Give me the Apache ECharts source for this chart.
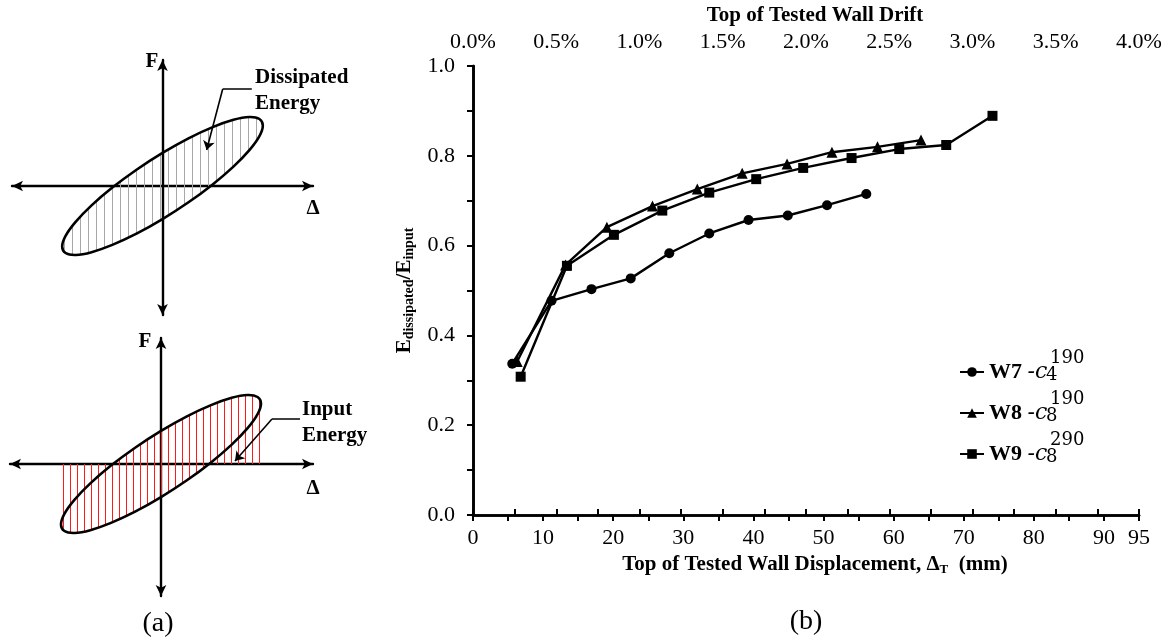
<!DOCTYPE html>
<html><head><meta charset="utf-8">
<script src="https://cdn.jsdelivr.net/npm/echarts@6/dist/echarts.min.js"></script>
<style>html,body{margin:0;padding:0;background:#fff}#c{width:1173px;height:643px}</style>
</head><body><div id="c"></div>
<script>
// ---------- panel (b) data ----------
const seriesNames = ['W7', 'W8', 'W9'];
const dispW7  = [5.6, 11.2, 16.9, 22.5, 28.0, 33.7, 39.3, 44.9, 50.5, 56.1];
const ratioW7 = [0.337, 0.477, 0.503, 0.527, 0.583, 0.627, 0.657, 0.667, 0.690, 0.715];
const dispW8  = [6.3, 13.2, 19.1, 25.6, 32.0, 38.4, 44.8, 51.2, 57.7, 63.9];
const ratioW8 = [0.342, 0.557, 0.641, 0.688, 0.726, 0.761, 0.782, 0.808, 0.820, 0.835];
const dispW9  = [6.8, 13.4, 20.1, 27.0, 33.7, 40.4, 47.1, 54.0, 60.8, 67.5, 74.1];
const ratioW9 = [0.308, 0.555, 0.624, 0.678, 0.718, 0.748, 0.773, 0.795, 0.815, 0.824, 0.889];
const legendSub = ['4', '8', '8'];
const legendSup = ['190', '190', '290'];
const dispTickLabels  = [0, 10, 20, 30, 40, 50, 60, 70, 80, 90, 95];
const driftTickLabels = [0, 0.5, 1.0, 1.5, 2.0, 2.5, 3.0, 3.5, 4.0];
const ratioTickLabels = [0, 0.2, 0.4, 0.6, 0.8, 1.0];

// ---------- panel (a) schematic data (px-like units) ----------
const loopPts = [[100,60.5],[96.6,67.0],[86.6,69.0],[70.7,66.2],[50,58.9],[25.9,47.7],[0,33.1],[-25.9,16.3],
  [-50,-1.6],[-70.7,-19.4],[-86.6,-35.9],[-96.6,-49.9],[-100,-60.5],[-96.6,-67.0],[-86.6,-69.0],[-70.7,-66.2],
  [-50,-58.9],[-25.9,-47.7],[0,-33.1],[25.9,-16.3],[50,1.6],[70.7,19.4],[86.6,35.9],[96.6,49.9]];
const inputPts = [[-100,0],[-48,0],[-25.9,16.3],[0,33.1],[25.9,47.7],[50,58.9],[70.7,66.2],[86.6,69.0],[96.6,67.0],
  [100,60.5],[100,0],[48,0],[25.9,-16.3],[0,-33.1],[-25.9,-47.7],[-50,-58.9],[-70.7,-66.2],[-86.6,-69.0],[-96.6,-67.0],[-100,-60.5]];
const leaderDissipated = [[89,97],[60,97],[44,36]];
const leaderInput = [[139,45],[111,45],[74,3]];

const SERIF = 'Liberation Serif';
function zip(a, b) { return a.map((v, i) => [v, b[i]]); }
function stripe(color, w) {
  const c = document.createElement('canvas'); c.width = w; c.height = 4;
  const ctx = c.getContext('2d'); ctx.fillStyle = color; ctx.fillRect(0, 0, 1, 4);
  return { image: c, repeat: 'repeat' };
}
const grayHatch = stripe('#a8a8a8', 8);
const redHatch = stripe('#ff1a1a', 7);

function polySeries(pts, xi, yi, style, smooth, z) {
  return {
    type: 'custom', xAxisIndex: xi, yAxisIndex: yi, silent: true, z: z,
    data: [[0, 0]],
    renderItem: function (params, api) {
      return { type: 'polygon', shape: { points: pts.map(p => api.coord(p)), smooth: smooth }, style: style };
    }
  };
}
function leaderSeries(pts, xi, yi) {
  return {
    type: 'lines', coordinateSystem: 'cartesian2d', xAxisIndex: xi, yAxisIndex: yi, silent: true, z: 5,
    lineStyle: { color: '#000', width: 1.6, opacity: 1 }, symbolSize: 9,
    data: [
      { coords: [pts[0], pts[1]], symbol: ['none', 'none'] },
      { coords: [pts[1], pts[2]], symbol: ['none', 'arrow'] }
    ]
  };
}
function schemAxisX(gi, min, max) {
  return { type: 'value', gridIndex: gi, min: min, max: max,
    axisLine: { show: true, onZero: true, symbol: ['arrow', 'arrow'], symbolSize: [8, 11], lineStyle: { color: '#000', width: 2.4 } },
    axisTick: { show: false }, axisLabel: { show: false }, splitLine: { show: false } };
}

const chart = echarts.init(document.getElementById('c'), null, { renderer: 'canvas' });

const tickStyle = { color: '#000', width: 2 };
const axisLineStyle = { color: '#000', width: 2.6 };
const labelFont = { fontFamily: SERIF, fontSize: 22, color: '#000' };

const legendTops = [356, 397, 438];
const legends = seriesNames.map((n, i) => ({
  data: [n], left: 954, top: legendTops[i], orient: 'vertical', selectedMode: false,
  itemWidth: 24, itemHeight: 12, itemGap: 5,
  formatter: name => '{b|' + name + '} {m|-c}',
  textStyle: { fontFamily: SERIF, fontSize: 22, color: '#000',
    rich: { b: { fontFamily: SERIF, fontSize: 22, fontWeight: 'bold', color: '#000' },
            m: { fontFamily: 'DejaVu Serif', fontStyle: 'italic', fontSize: 22, color: '#000' } } }
}));

const graphics = [];
seriesNames.forEach((n, i) => {
  const cy = legendTops[i] + 12;
  graphics.push({ type: 'text', x: 1046, y: cy + 7, style: { text: legendSub[i], font: '18px "DejaVu Serif"', fill: '#000', textAlign: 'left', textVerticalAlign: 'middle', align: 'left', verticalAlign: 'middle' } });
  graphics.push({ type: 'text', x: 1050, y: cy - 10, style: { text: legendSup[i], font: '18px "DejaVu Serif"', fill: '#000', textAlign: 'left', textVerticalAlign: 'middle', align: 'left', verticalAlign: 'middle' } });
});
function txt(s, x, y, font, align) {
  return { type: 'text', x: x, y: y, style: { text: s, font: font, fill: '#000', textAlign: align || 'center', textVerticalAlign: 'middle', align: align || 'center', verticalAlign: 'middle', lineHeight: 26 } };
}
const boldF = 'bold 21px "Liberation Serif"';
graphics.push(txt('F', 152, 62, boldF));
graphics.push(txt('Δ', 313, 209, boldF));
graphics.push(txt('F', 145, 342, boldF));
graphics.push(txt('Δ', 313, 489, boldF));
graphics.push(txt('Dissipated\nEnergy', 255, 91, boldF, 'left'));
graphics.push(txt('Input\nEnergy', 302, 423, boldF, 'left'));
graphics.push(txt('(a)', 158, 624, '28px "Liberation Serif"'));
graphics.push(txt('(b)', 806, 622, '28px "Liberation Serif"'));

const option = {
  animation: false,
  backgroundColor: '#fff',
  grid: [
    { left: 473, right: 34, top: 66, bottom: 128 },
    { left: 12, width: 301, top: 60, height: 255 },
    { left: 10, width: 303, top: 338, height: 258 }
  ],
  xAxis: [
    { type: 'value', gridIndex: 0, position: 'bottom', min: 0, max: 95, interval: 5,
      name: '{t|Top of Tested Wall Displacement, Δ}{s|T}{t|  (mm)}', nameLocation: 'middle', nameGap: 36,
      nameTextStyle: { padding: [0, 0, 0, 18], rich: {
        t: { fontFamily: SERIF, fontSize: 21, fontWeight: 'bold', color: '#000' },
        s: { fontFamily: SERIF, fontSize: 13, fontWeight: 'bold', color: '#000', padding: [10, 0, 0, 0] } } },
      axisLine: { lineStyle: axisLineStyle }, axisTick: { length: 6, lineStyle: tickStyle },
      splitLine: { show: false },
      axisLabel: Object.assign({ margin: 12, interval: 0, showMinLabel: true, showMaxLabel: true,
        formatter: v => dispTickLabels.some(t => Math.abs(t - v) < 1e-6) ? String(v) : '' }, labelFont) },
    { type: 'value', gridIndex: 0, position: 'top', min: 0, max: 4, interval: 0.25,
      name: 'Top of Tested Wall Drift', nameLocation: 'middle', nameGap: 35,
      nameTextStyle: { fontFamily: SERIF, fontSize: 21, fontWeight: 'bold', color: '#000', padding: [0, 0, 0, 18] },
      axisLine: { lineStyle: axisLineStyle }, axisTick: { length: 6, lineStyle: tickStyle },
      splitLine: { show: false },
      axisLabel: Object.assign({ margin: 13, interval: 0, showMinLabel: true, showMaxLabel: true,
        formatter: v => driftTickLabels.some(t => Math.abs(t - v) < 1e-6) ? v.toFixed(1) + '%' : '' }, labelFont) },
    schemAxisX(1, -150, 150),
    schemAxisX(2, -151, 152)
  ],
  yAxis: [
    { type: 'value', gridIndex: 0, position: 'left', min: 0, max: 1, interval: 0.1,
      name: '{e|E}{s|dissipated}{e|/E}{s|input}', nameLocation: 'middle', nameRotate: 90, nameGap: 54,
      nameTextStyle: { rich: {
        e: { fontFamily: SERIF, fontSize: 21, fontWeight: 'bold', color: '#000' },
        s: { fontFamily: SERIF, fontSize: 14, fontWeight: 'bold', color: '#000', padding: [10, 0, 0, 0] } } },
      axisLine: { lineStyle: axisLineStyle }, axisTick: { length: 6, lineStyle: tickStyle },
      splitLine: { show: false },
      axisLabel: Object.assign({ margin: 18, interval: 0,
        formatter: v => ratioTickLabels.some(t => Math.abs(t - v) < 1e-6) ? v.toFixed(1) : '' }, labelFont) },
    { type: 'value', gridIndex: 0, position: 'right', min: 0, max: 1,
      axisLine: { show: true, lineStyle: axisLineStyle }, axisTick: { show: false }, axisLabel: { show: false }, splitLine: { show: false } },
    schemAxisX(1, -129, 126),
    schemAxisX(2, -132, 126)
  ],
  legend: legends,
  graphic: graphics,
  series: [
    { name: 'W7', type: 'line', xAxisIndex: 0, yAxisIndex: 0, data: zip(dispW7, ratioW7),
      symbol: 'circle', symbolSize: 10, lineStyle: { color: '#000', width: 2.4 }, itemStyle: { color: '#000' }, z: 3 },
    { name: 'W8', type: 'line', xAxisIndex: 0, yAxisIndex: 0, data: zip(dispW8, ratioW8),
      symbol: 'triangle', symbolSize: 11, lineStyle: { color: '#000', width: 2.4 }, itemStyle: { color: '#000' }, z: 3 },
    { name: 'W9', type: 'line', xAxisIndex: 0, yAxisIndex: 0, data: zip(dispW9, ratioW9),
      symbol: 'rect', symbolSize: 10, lineStyle: { color: '#000', width: 2.4 }, itemStyle: { color: '#000' }, z: 3 },
    polySeries(loopPts, 2, 2, { fill: grayHatch, stroke: '#000', lineWidth: 2.6 }, 0.4, 3),
    polySeries(inputPts, 3, 3, { fill: redHatch, stroke: null, lineWidth: 0 }, 0, 2),
    polySeries(loopPts, 3, 3, { fill: null, stroke: '#000', lineWidth: 2.6 }, 0.4, 3),
    leaderSeries(leaderDissipated, 2, 2),
    leaderSeries(leaderInput, 3, 3)
  ]
};
chart.setOption(option);
</script>
</body></html>
